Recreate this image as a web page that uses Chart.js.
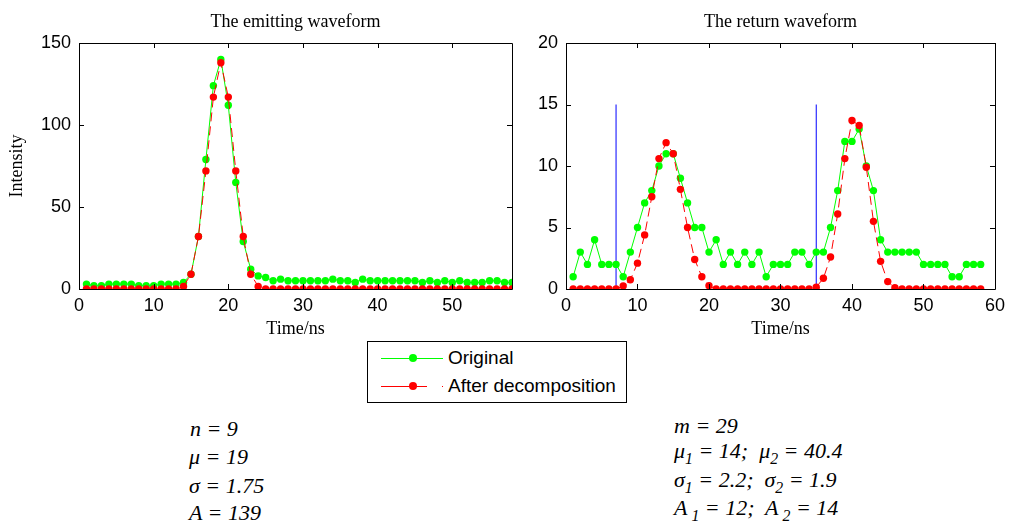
<!DOCTYPE html>
<html>
<head>
<meta charset="utf-8">
<script src="https://cdn.jsdelivr.net/npm/chart.js@4/dist/chart.umd.min.js"></script>
<style>
  body { margin: 0; background: #fff; width: 1011px; height: 529px; position: relative; overflow: hidden; }
  canvas { position: absolute; top: 0; }
  #legend { position: absolute; left: 367px; top: 341px; width: 258px; height: 60px; border: 1px solid #000; background: #fff;
            font-family: "Liberation Sans", Arial, sans-serif; font-size: 19px; }
  .seg { position: absolute; height: 0; }
  .dot { position: absolute; width: 8px; height: 8px; border-radius: 50%; }
  .lab { position: absolute; left: 80px; line-height: 22px; }
  .eq { position: absolute; font-family: "Liberation Serif", "Times New Roman", serif; font-style: italic;
        font-size: 22px; line-height: 22px; white-space: pre; }
  .eq sub { font-size: 0.72em; vertical-align: -0.35em; line-height: 0; }
</style>
</head>
<body>
<canvas id="emitChart" width="540" height="345" style="left:0px"></canvas>
<canvas id="returnChart" width="491" height="345" style="left:520px"></canvas>

<div id="legend">
  <div class="seg" style="left:13px; top:16px; width:62px; border-top:1px solid #00ff00"></div>
  <div class="dot" style="left:41px; top:12px; background:#00ff00"></div>
  <div class="lab" style="top:5px">Original</div>
  <div class="seg" style="left:13px; top:44px; width:46px; border-top:1px solid #ff0000"></div>
  <div class="seg" style="left:74px; top:44px; width:1px; border-top:1px solid #ff0000"></div>
  <div class="dot" style="left:41px; top:40px; background:#ff0000"></div>
  <div class="lab" style="top:33px">After decomposition</div>
</div>

<div class="eq" style="left:190px; top:418px">n = 9</div>
<div class="eq" style="left:189px; top:446px">&mu; = 19</div>
<div class="eq" style="left:189px; top:475px">&sigma; = 1.75</div>
<div class="eq" style="left:189px; top:502px">A = 139</div>

<div class="eq" style="left:674px; top:415px">m = 29</div>
<div class="eq" style="left:674px; top:440px">&mu;<sub>1</sub> = 14;  &mu;<sub>2</sub> = 40.4</div>
<div class="eq" style="left:674px; top:469px">&sigma;<sub>1</sub> = 2.2;  &sigma;<sub>2</sub> = 1.9</div>
<div class="eq" style="left:674px; top:497px">A<sub> 1</sub> = 12;  A<sub> 2</sub> = 14</div>

<script>
// sample times (ns), same for both waveforms
const timeNs = [1, 2, 3, 4, 5, 6, 7, 8, 9, 10, 11, 12, 13, 14, 15, 16, 17, 18, 19, 20,
  21, 22, 23, 24, 25, 26, 27, 28, 29, 30, 31, 32, 33, 34, 35, 36, 37, 38, 39, 40,
  41, 42, 43, 44, 45, 46, 47, 48, 49, 50, 51, 52, 53, 54, 55, 56, 57, 58];

// emitting waveform
const emitOriginal = [3, 2, 2, 3, 3, 3, 3, 2, 2, 2, 3, 3, 3, 4, 9, 32, 79, 124, 140, 112,
  65, 29, 12, 8, 7, 5, 6, 5, 5, 5, 5, 5, 5, 6, 5, 5, 4, 6, 5, 5,
  5, 5, 5, 5, 5, 4, 5, 4, 5, 4, 5, 4, 4, 4, 5, 5, 4, 4];
const emitDecomposed = [0, 0, 0, 0, 0, 0, 0, 0, 0, 0, 0, 0, 0, 1.6, 9, 32, 72, 117, 138, 117,
  72, 32, 9, 1.6, 0, 0, 0, 0, 0, 0, 0, 0, 0, 0, 0, 0, 0, 0, 0, 0,
  0, 0, 0, 0, 0, 0, 0, 0, 0, 0, 0, 0, 0, 0, 0, 0, 0, 0];

// return waveform
const returnOriginal = [1, 3, 2, 4, 2, 2, 2, 1, 3, 5, 7, 8, 10, 11, 11, 9, 7, 5, 5, 3,
  4, 2, 3, 2, 3, 2, 3, 1, 2, 2, 2, 3, 3, 2, 3, 3, 5, 8, 12, 12,
  13, 10, 8, 4, 3, 3, 3, 3, 3, 2, 2, 2, 2, 1, 1, 2, 2, 2];
const returnDecomposed = [0, 0, 0, 0, 0, 0, 0, 0.25, 0.75, 2.1, 4.4, 7.5, 10.6, 11.9, 11, 8.1, 5, 2.4, 1, 0.27,
  0, 0, 0, 0, 0, 0, 0, 0, 0, 0, 0, 0, 0, 0, 0.15, 0.87, 2.6, 6.1, 10.6, 13.7,
  13.3, 9.9, 5.5, 2.25, 0.6, 0.1, 0, 0, 0, 0, 0, 0, 0, 0, 0, 0, 0, 0];

// blue markers on the return waveform (window bounds)
const windowBounds = [7, 35];
const windowHeight = 15;

// tick settings
const emitXTicks = { min: 0, max: 58, step: 10 };
const emitYTicks = { min: 0, max: 150, step: 50 };
const returnXTicks = { min: 0, max: 60, step: 10 };
const returnYTicks = { min: 0, max: 20, step: 5 };

const GREEN = '#00ff00';
const RED = '#ff0000';
const sansFont = '"Liberation Sans", Arial, sans-serif';
const serifFont = '"Liberation Serif", "Times New Roman", serif';

function toPoints(ys) {
  return ys.map((y, i) => ({ x: timeNs[i], y: y }));
}

// matlab style box with inward ticks on all four sides
const boxPlugin = {
  id: 'matBox',
  afterDatasetsDraw(chart) {
    const { ctx, chartArea: a, scales } = chart;
    ctx.save();
    ctx.strokeStyle = '#000';
    ctx.lineWidth = 1;
    ctx.beginPath();
    ctx.rect(Math.round(a.left) + 0.5, Math.round(a.top) + 0.5, Math.round(a.right - a.left), Math.round(a.bottom - a.top));
    ctx.stroke();
    const len = 5;
    ctx.beginPath();
    scales.x.ticks.forEach((t) => {
      const px = Math.round(scales.x.getPixelForValue(t.value)) + 0.5;
      ctx.moveTo(px, a.bottom); ctx.lineTo(px, a.bottom - len);
      ctx.moveTo(px, a.top); ctx.lineTo(px, a.top + len);
    });
    scales.y.ticks.forEach((t) => {
      const py = Math.round(scales.y.getPixelForValue(t.value)) + 0.5;
      ctx.moveTo(a.left, py); ctx.lineTo(a.left + len, py);
      ctx.moveTo(a.right, py); ctx.lineTo(a.right - len, py);
    });
    ctx.stroke();
    ctx.restore();
  }
};

function makeChart(id, opts) {
  const datasets = [
    {
      label: 'After decomposition',
      data: toPoints(opts.decomposed),
      borderColor: RED, backgroundColor: RED, borderWidth: 1, borderDash: [9, 5],
      pointRadius: 3.7, pointBorderWidth: 0, pointBackgroundColor: RED, order: 1
    },
    {
      label: 'Original',
      data: toPoints(opts.original),
      borderColor: GREEN, backgroundColor: GREEN, borderWidth: 1,
      pointRadius: 3.7, pointBorderWidth: 0, pointBackgroundColor: GREEN, order: 2
    }
  ];
  (opts.bounds || []).forEach((b) => {
    datasets.push({
      data: [{ x: b, y: 0 }, { x: b, y: windowHeight }],
      borderColor: '#0000ff', borderWidth: 1, pointRadius: 0, order: 3
    });
  });

  return new Chart(document.getElementById(id), {
    type: 'line',
    data: { datasets: datasets },
    plugins: [boxPlugin],
    options: {
      responsive: false,
      animation: false,
      devicePixelRatio: 1,
      layout: { padding: { left: 0, right: opts.padRight, top: 0, bottom: 0 } },
      plugins: {
        legend: { display: false },
        tooltip: { enabled: false },
        title: {
          display: true, text: opts.title, color: '#000', fullSize: false,
          font: { family: serifFont, size: 18, weight: 'normal' },
          padding: { top: 11, bottom: 10.4 }
        }
      },
      scales: {
        x: {
          type: 'linear', min: opts.xTicks.min, max: opts.xTicks.max,
          grid: { display: false, drawTicks: false }, border: { display: false },
          ticks: { stepSize: opts.xTicks.step, color: '#000', padding: 6, maxRotation: 0,
                   font: { family: sansFont, size: 18 } },
          // keep only the round ticks (no label at the axis max)
          afterBuildTicks: (s) => { s.ticks = s.ticks.filter((t) => t.value % opts.xTicks.step === 0); },
          title: { display: true, text: 'Time/ns', color: '#000', padding: { top: 0, bottom: 5 },
                   font: { family: serifFont, size: 18 } },
          afterFit: (s) => { s.height = 56; }
        },
        y: {
          min: opts.yTicks.min, max: opts.yTicks.max,
          grid: { display: false, drawTicks: false }, border: { display: false },
          ticks: { stepSize: opts.yTicks.step, color: '#000', padding: 8,
                   font: { family: sansFont, size: 18 } },
          title: { display: !!opts.yTitle, text: opts.yTitle || '', color: '#000', padding: { top: 6.5, bottom: 0 },
                   font: { family: serifFont, size: 18 } },
          afterFit: (s) => { s.width = opts.yWidth; }
        }
      }
    }
  });
}

const emitChart = makeChart('emitChart', {
  title: 'The emitting waveform', original: emitOriginal, decomposed: emitDecomposed,
  xTicks: emitXTicks, yTicks: emitYTicks, yTitle: 'Intensity', yWidth: 79, padRight: 28
});

const returnChart = makeChart('returnChart', {
  title: 'The return waveform', original: returnOriginal, decomposed: returnDecomposed,
  xTicks: returnXTicks, yTicks: returnYTicks, yWidth: 46, padRight: 11, bounds: windowBounds
});
</script>
</body>
</html>
